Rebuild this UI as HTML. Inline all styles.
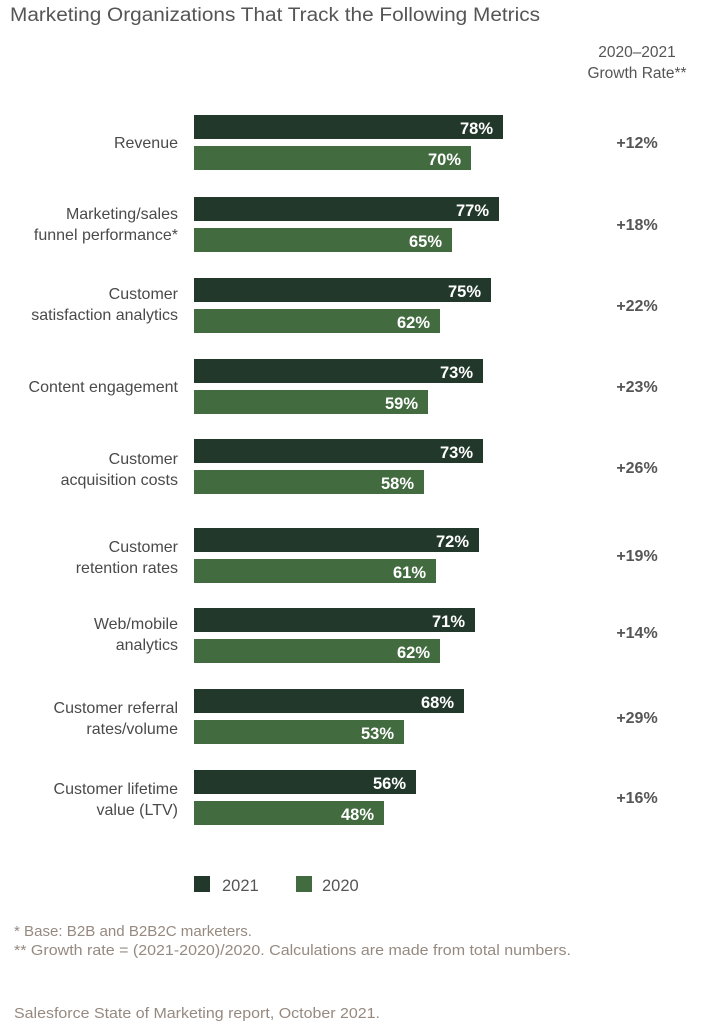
<!DOCTYPE html>
<html><head><meta charset="utf-8"><style>
html,body{margin:0;padding:0;background:#fff;}
svg{display:block;font-family:"Liberation Sans",sans-serif;}
.l{font-size:16px;fill:#4a4a4a;text-anchor:end;}
.v{font-size:16.5px;fill:#fff;font-weight:bold;text-anchor:end;}
.g{font-size:16px;fill:#555;text-anchor:middle;font-weight:bold;}
.f{font-size:14.5px;fill:#968a80;}
</style></head><body>
<svg width="714" height="1024" viewBox="0 0 714 1024">
<text x="10" y="21" font-size="19" fill="#555" textLength="530" lengthAdjust="spacingAndGlyphs">Marketing Organizations That Track the Following Metrics</text>
<text x="637" y="57" font-size="15.5" fill="#555" text-anchor="middle">2020–2021</text>
<text x="637" y="78" font-size="15.5" fill="#555" text-anchor="middle">Growth Rate**</text>
<g>
<rect x="194" y="115" width="309" height="24" fill="#22382b"/><text class="v" x="493" y="134">78%</text>
<rect x="194" y="146" width="277" height="24" fill="#426b3f"/><text class="v" x="461" y="165">70%</text>
<text class="l" x="178" y="148">Revenue</text><text class="g" x="637" y="148">+12%</text>

<rect x="194" y="197" width="305" height="24" fill="#22382b"/><text class="v" x="489" y="216">77%</text>
<rect x="194" y="228" width="258" height="24" fill="#426b3f"/><text class="v" x="442" y="247">65%</text>
<text class="l" x="178" y="219">Marketing/sales</text><text class="l" x="178" y="240">funnel performance*</text><text class="g" x="637" y="230">+18%</text>

<rect x="194" y="278" width="297" height="24" fill="#22382b"/><text class="v" x="481" y="297">75%</text>
<rect x="194" y="309" width="246" height="24" fill="#426b3f"/><text class="v" x="430" y="328">62%</text>
<text class="l" x="178" y="299">Customer</text><text class="l" x="178" y="320">satisfaction analytics</text><text class="g" x="637" y="311">+22%</text>

<rect x="194" y="359" width="289" height="24" fill="#22382b"/><text class="v" x="473" y="378">73%</text>
<rect x="194" y="390" width="234" height="24" fill="#426b3f"/><text class="v" x="418" y="409">59%</text>
<text class="l" x="178" y="392">Content engagement</text><text class="g" x="637" y="392">+23%</text>

<rect x="194" y="439" width="289" height="24" fill="#22382b"/><text class="v" x="473" y="458">73%</text>
<rect x="194" y="470" width="230" height="24" fill="#426b3f"/><text class="v" x="414" y="489">58%</text>
<text class="l" x="178" y="464">Customer</text><text class="l" x="178" y="485">acquisition costs</text><text class="g" x="637" y="473">+26%</text>

<rect x="194" y="528" width="285" height="24" fill="#22382b"/><text class="v" x="469" y="547">72%</text>
<rect x="194" y="559" width="242" height="24" fill="#426b3f"/><text class="v" x="426" y="578">61%</text>
<text class="l" x="178" y="552">Customer</text><text class="l" x="178" y="573">retention rates</text><text class="g" x="637" y="561">+19%</text>

<rect x="194" y="608" width="281" height="24" fill="#22382b"/><text class="v" x="465" y="627">71%</text>
<rect x="194" y="639" width="246" height="24" fill="#426b3f"/><text class="v" x="430" y="658">62%</text>
<text class="l" x="178" y="629">Web/mobile</text><text class="l" x="178" y="650">analytics</text><text class="g" x="637" y="638">+14%</text>

<rect x="194" y="689" width="270" height="24" fill="#22382b"/><text class="v" x="454" y="708">68%</text>
<rect x="194" y="720" width="210" height="24" fill="#426b3f"/><text class="v" x="394" y="739">53%</text>
<text class="l" x="178" y="713">Customer referral</text><text class="l" x="178" y="734">rates/volume</text><text class="g" x="637" y="723">+29%</text>

<rect x="194" y="770" width="222" height="24" fill="#22382b"/><text class="v" x="406" y="789">56%</text>
<rect x="194" y="801" width="190" height="24" fill="#426b3f"/><text class="v" x="374" y="820">48%</text>
<text class="l" x="178" y="794">Customer lifetime</text><text class="l" x="178" y="815">value (LTV)</text><text class="g" x="637" y="803">+16%</text>
</g>
<rect x="194" y="876" width="16" height="16" fill="#22382b"/><text x="222" y="891" font-size="16.5" fill="#555">2021</text>
<rect x="296" y="876" width="16" height="16" fill="#426b3f"/><text x="322" y="891" font-size="16.5" fill="#555">2020</text>
<text class="f" x="14" y="936" textLength="238" lengthAdjust="spacingAndGlyphs">* Base: B2B and B2B2C marketers.</text>
<text class="f" x="14" y="955" textLength="557" lengthAdjust="spacingAndGlyphs">** Growth rate = (2021-2020)/2020. Calculations are made from total numbers.</text>
<text class="f" x="14" y="1018" textLength="366" lengthAdjust="spacingAndGlyphs">Salesforce State of Marketing report, October 2021.</text>
</svg>
</body></html>
